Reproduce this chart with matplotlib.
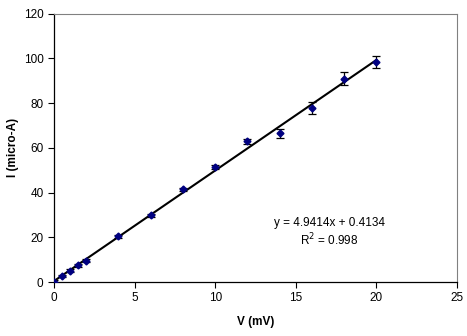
import matplotlib
matplotlib.use('Agg')
import numpy as np
import matplotlib.pyplot as plt

plt.rcParams['font.family'] = ['Liberation Sans', 'DejaVu Sans']

# measured points
voltage = [0, 0.5, 1, 1.5, 2, 4, 6, 8, 10, 12, 14, 16, 18, 20]
current = [0.2, 2.7, 5.0, 7.4, 9.6, 20.4, 29.9, 41.4, 51.2, 62.8, 66.4, 77.8, 90.9, 98.2]
current_err = [0.5, 0.6, 0.6, 0.6, 0.6, 0.7, 0.7, 0.8, 0.9, 1.0, 2.0, 2.5, 3.0, 2.7]

# linear trendline
slope = 4.9414
intercept = 0.4134
r_squared = 0.998

fig = plt.figure(figsize=(4.67, 3.36), dpi=100)
ax = fig.add_axes([0.1156, 0.1607, 0.8630, 0.7991])

xfit = np.array([min(voltage), max(voltage)])
ax.plot(xfit, slope * xfit + intercept, color='black', linewidth=1.5, zorder=2)
ax.errorbar(voltage, current, yerr=current_err, fmt='D', color='#000080',
            markersize=3.5, ecolor='black', elinewidth=0.9, capsize=3,
            capthick=0.9, zorder=3)

ax.text(17.1, 26.3, 'y = 4.9414x + 0.4134', ha='center', va='center', fontsize=8.5)
ax.text(17.1, 18.7, 'R$^2$ = %.3f' % r_squared, ha='center', va='center', fontsize=8.5)

ax.set_xlim(0, 25)
ax.set_ylim(0, 120)
ax.set_xticks([0, 5, 10, 15, 20, 25])
ax.set_yticks([0, 20, 40, 60, 80, 100, 120])
ax.tick_params(labelsize=8.5, length=4, width=0.8, direction='out')

ax.spines['top'].set_color('#808080')
ax.spines['right'].set_color('#808080')
for s in ['left', 'bottom']:
    ax.spines[s].set_color('black')
    ax.spines[s].set_linewidth(0.9)

ax.set_xlabel('V (mV)', fontsize=8.5, fontweight='bold')
ax.set_ylabel('I (micro-A)', fontsize=8.5, fontweight='bold')
ax.xaxis.set_label_coords(0.5, -0.125)
ax.yaxis.set_label_coords(-0.088, 0.5)

fig.savefig('out.png', dpi=100)
